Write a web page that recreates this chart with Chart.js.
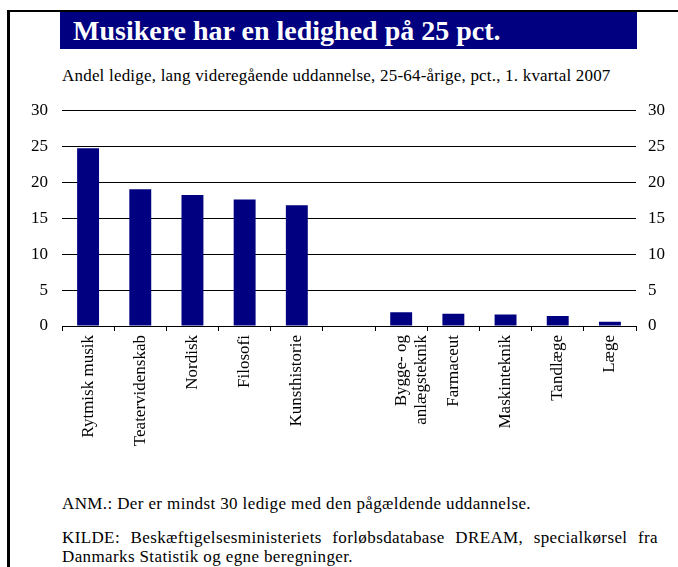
<!DOCTYPE html>
<html>
<head>
<meta charset="utf-8">
<script src="https://cdn.jsdelivr.net/npm/chart.js@4"></script>
<style>
  html, body { margin: 0; padding: 0; background: #fff; }
  body { width: 678px; height: 567px; position: relative; overflow: hidden;
         font-family: "Liberation Serif", "DejaVu Serif", serif; color: #000; }
  .frame { position: absolute; left: 7px; top: 10px; right: 0; bottom: 0;
           border-left: 3px solid #000; border-top: 2px solid #000; }
  .title { position: absolute; left: 60px; top: 12px; width: 577px; height: 37px;
           background: #000080; color: #fff; font-weight: bold; font-size: 28px;
           line-height: 38px; padding-left: 13px; box-sizing: border-box; }
  .subtitle { position: absolute; left: 62px; top: 66px; font-size: 17px; letter-spacing: 0.2px; white-space: nowrap; }
  .chartbox { position: absolute; left: 0; top: 86px; width: 678px; height: 401px; }
  .note { position: absolute; left: 62px; width: 596px; font-size: 17px; line-height: 19px; letter-spacing: 0.38px; }
  .anm { top: 494px; }
  .kilde { top: 528px; text-align: justify; text-align-last: left; }
</style>
</head>
<body>
<div class="frame"></div>
<div class="title">Musikere har en ledighed på 25 pct.</div>
<div class="subtitle">Andel ledige, lang videregående uddannelse, 25-64-årige, pct., 1. kvartal 2007</div>
<div class="chartbox"><canvas id="myChart"></canvas></div>
<div class="note anm">ANM.: Der er mindst 30 ledige med den pågældende uddannelse.</div>
<div class="note kilde">KILDE: Beskæftigelsesministeriets forløbsdatabase DREAM, specialkørsel fra Danmarks Statistik og egne beregninger.</div>

<script>
const categories = ['Rytmisk musik', 'Teatervidenskab', 'Nordisk', 'Filosofi', 'Kunsthistorie', '',
  ['Bygge- og', 'anlægsteknik'], 'Farmaceut', 'Maskinteknik', 'Tandlæge', 'Læge'];
const unemployment = [24.7, 19.0, 18.2, 17.6, 16.8, null, 1.9, 1.7, 1.6, 1.4, 0.6];
const yMin = 0;
const yMax = 30;
const yStep = 5;

const serif = '"Liberation Serif", "DejaVu Serif", serif';

const ctx = document.getElementById('myChart').getContext('2d');
new Chart(ctx, {
  type: 'bar',
  data: {
    labels: categories,
    datasets: [{
      label: 'Ledige',
      data: unemployment,
      backgroundColor: '#000080',
      barPercentage: 0.42,
      categoryPercentage: 1.0
    }]
  },
  options: {
    responsive: true,
    maintainAspectRatio: false,
    animation: false,
    layout: { padding: { top: 15, right: 0, left: 0, bottom: 0 } },
    plugins: {
      legend: { display: false },
      tooltip: { enabled: false }
    },
    scales: {
      x: {
        grid: { offset: true, drawOnChartArea: false, drawTicks: true, tickLength: 5, color: '#000' },
        border: { display: true, color: '#000', width: 1 },
        ticks: {
          color: '#000', font: { family: serif, size: 17 },
          maxRotation: 90, minRotation: 90, padding: 4, autoSkip: false
        },
        afterFit: s => { s.height = 161; }
      },
      y: {
        position: 'left',
        min: yMin, max: yMax,
        grid: { color: '#000', lineWidth: 1, drawTicks: false },
        border: { display: false },
        ticks: { stepSize: yStep, color: '#000', font: { family: serif, size: 17 }, padding: 14 },
        afterFit: s => { s.width = 62; }
      },
      y2: {
        position: 'right',
        min: yMin, max: yMax,
        grid: { drawOnChartArea: false, drawTicks: false },
        border: { display: false },
        ticks: { stepSize: yStep, color: '#000', font: { family: serif, size: 17 }, padding: 12 },
        afterFit: s => { s.width = 42; }
      }
    }
  }
});
</script>
</body>
</html>
